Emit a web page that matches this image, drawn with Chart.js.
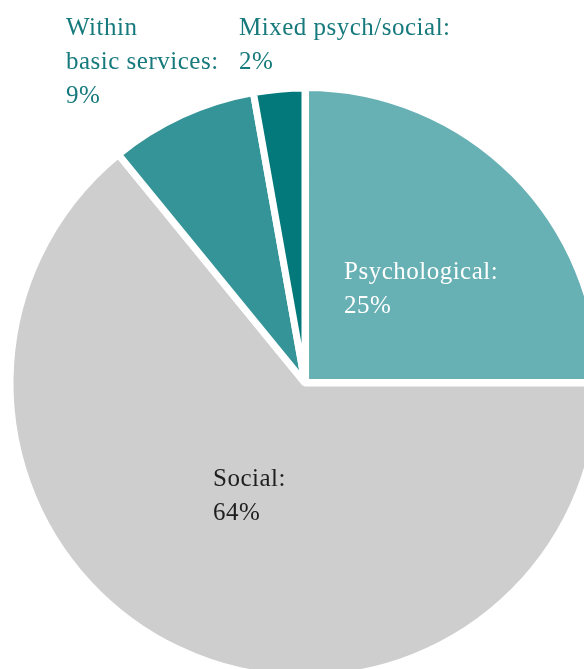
<!DOCTYPE html>
<html>
<head>
<meta charset="utf-8">
<script src="https://cdn.jsdelivr.net/npm/chart.js@4"></script>
<style>
  html, body { margin:0; padding:0; background:#fff; overflow:hidden; width:584px; height:669px; }
  #wrap { position:absolute; left:0; top:0; width:610px; height:766px; }
</style>
</head>
<body>
<div id="wrap"><canvas id="pie" width="610" height="766"></canvas></div>
<script>
// slice data, clockwise from 12 o'clock (sizes as drawn in the picture)
const categories = ["Psychological", "Social", "Within basic services", "Mixed psych/social"];
const shares     = [25, 64.1, 8.1, 2.8];
const labelLines = [["Psychological:", "25%"], ["Social:", "64%"],
                    ["Within", "basic services:", "9%"], ["Mixed psych/social:", "2%"]];

const COLORS  = ["#67b0b4", "#cecece", "#359497", "#03797c"];
const TXT     = ["#ffffff", "#1e1e1e", "#16797c", "#16797c"];
// text anchor (left, first baseline) for each label
const LABEL_AT = [[344, 279], [213, 486], [66, 35], [239, 35]];
const LINE_H = 34;

const labelsPlugin = {
  id: "sliceLabels",
  afterDatasetsDraw(chart) {
    const ctx = chart.ctx;
    ctx.save();
    ctx.font = '25px "Liberation Serif", serif';
    ctx.letterSpacing = "0.5px";
    ctx.textBaseline = "alphabetic";
    labelLines.forEach((lines, i) => {
      ctx.fillStyle = TXT[i];
      const [x, y] = LABEL_AT[i];
      lines.forEach((t, j) => ctx.fillText(t, x, y + j * LINE_H));
    });
    ctx.restore();
  }
};

new Chart(document.getElementById("pie"), {
  type: "pie",
  data: {
    labels: categories,
    datasets: [{
      data: shares,
      backgroundColor: COLORS,
      borderColor: "#ffffff",
      borderWidth: 7,
      offset: [3, 0, 0, 0],
      radius: 295
    }]
  },
  options: {
    responsive: false,
    animation: false,
    layout: { padding: 0 },
    plugins: { legend: { display: false }, tooltip: { enabled: false } }
  },
  plugins: [labelsPlugin]
});
</script>
</body>
</html>
